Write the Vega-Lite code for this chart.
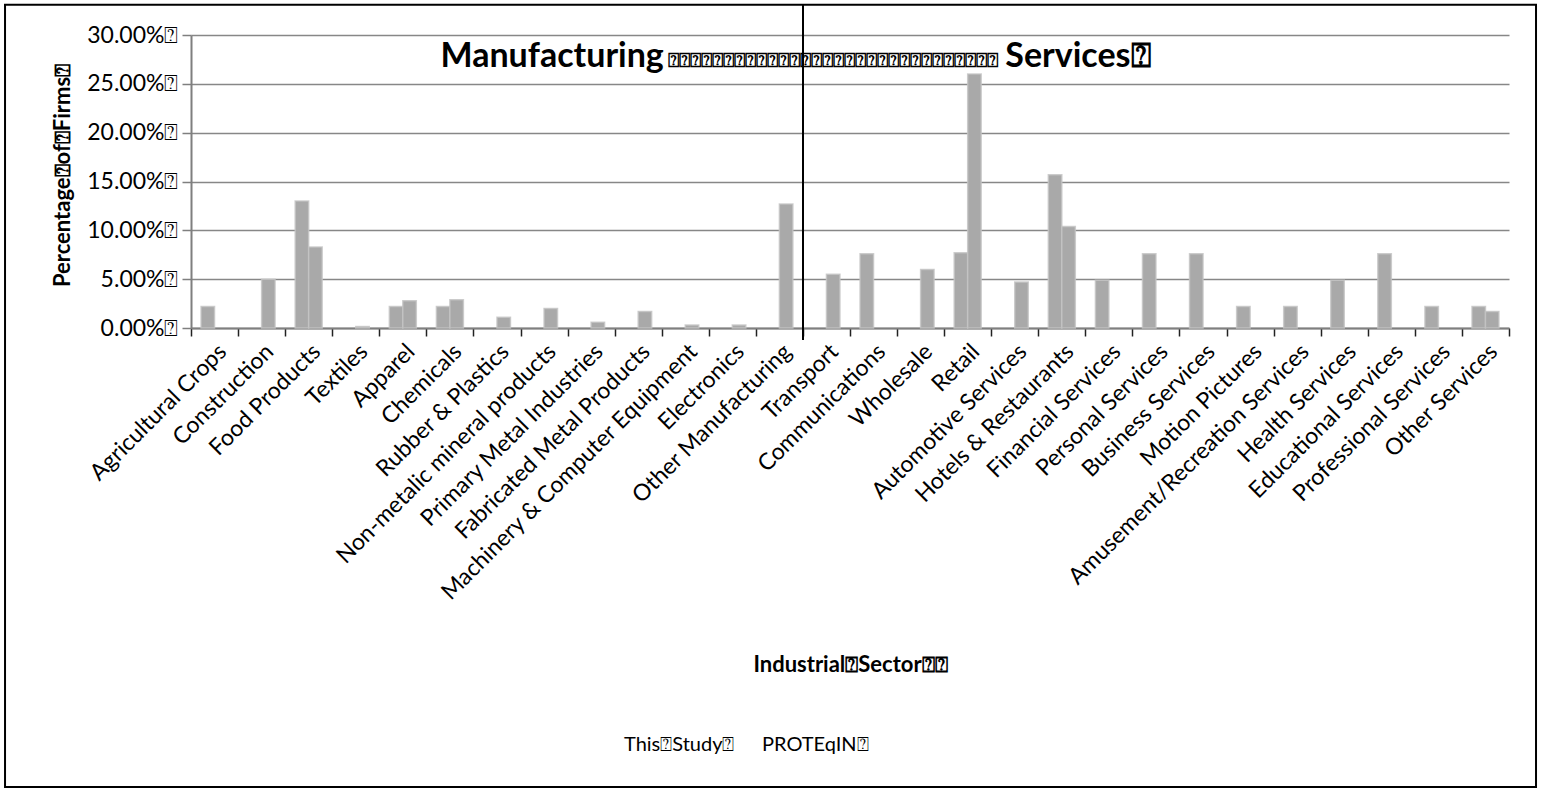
{
  "$schema": "https://vega.github.io/schema/vega-lite/v6.json",
  "autosize": {"type": "none"},
  "width": 1318,
  "height": 293,
  "padding": {"left": 191, "top": 35, "right": 32, "bottom": 464},
  "background": "white",
  "config": {
    "font": "Lato",
    "view": {"stroke": null},
    "axis": {"labelFont": "Lato", "titleFont": "Lato"},
    "legend": {"labelFont": "Lato"}
  },
  "datasets": {
    "firms": [
      {"sector": "Agricultural Crops", "series": "This Study", "share": 0.022},
      {"sector": "Construction", "series": "PROTEqIN", "share": 0.050},
      {"sector": "Food Products", "series": "This Study", "share": 0.130},
      {"sector": "Food Products", "series": "PROTEqIN", "share": 0.083},
      {"sector": "Textiles", "series": "PROTEqIN", "share": 0.0015},
      {"sector": "Apparel", "series": "This Study", "share": 0.022},
      {"sector": "Apparel", "series": "PROTEqIN", "share": 0.028},
      {"sector": "Chemicals", "series": "This Study", "share": 0.022},
      {"sector": "Chemicals", "series": "PROTEqIN", "share": 0.029},
      {"sector": "Rubber & Plastics", "series": "PROTEqIN", "share": 0.011},
      {"sector": "Non-metalic mineral products", "series": "PROTEqIN", "share": 0.020},
      {"sector": "Primary Metal Industries", "series": "PROTEqIN", "share": 0.006},
      {"sector": "Fabricated Metal Products", "series": "PROTEqIN", "share": 0.017},
      {"sector": "Machinery & Computer Equipment", "series": "PROTEqIN", "share": 0.003},
      {"sector": "Electronics", "series": "PROTEqIN", "share": 0.003},
      {"sector": "Other Manufacturing", "series": "PROTEqIN", "share": 0.127},
      {"sector": "Transport", "series": "PROTEqIN", "share": 0.055},
      {"sector": "Communications", "series": "This Study", "share": 0.076},
      {"sector": "Wholesale", "series": "PROTEqIN", "share": 0.060},
      {"sector": "Retail", "series": "This Study", "share": 0.077},
      {"sector": "Retail", "series": "PROTEqIN", "share": 0.260},
      {"sector": "Automotive Services", "series": "PROTEqIN", "share": 0.047},
      {"sector": "Hotels & Restaurants", "series": "This Study", "share": 0.157},
      {"sector": "Hotels & Restaurants", "series": "PROTEqIN", "share": 0.104},
      {"sector": "Financial Services", "series": "This Study", "share": 0.049},
      {"sector": "Personal Services", "series": "This Study", "share": 0.076},
      {"sector": "Business Services", "series": "This Study", "share": 0.076},
      {"sector": "Motion Pictures", "series": "This Study", "share": 0.022},
      {"sector": "Amusement/Recreation Services", "series": "This Study", "share": 0.022},
      {"sector": "Health Services", "series": "This Study", "share": 0.049},
      {"sector": "Educational Services", "series": "This Study", "share": 0.076},
      {"sector": "Professional Services", "series": "This Study", "share": 0.022},
      {"sector": "Other Services", "series": "This Study", "share": 0.022},
      {"sector": "Other Services", "series": "PROTEqIN", "share": 0.017}
    ],
    "headings": [
      {"pos": "Chemicals", "text": "Manufacturing"},
      {"pos": "Automotive Services", "text": "Services⍰"}
    ]
  },
  "resolve": {"scale": {"x": "independent"}},
  "layer": [
    {
      "data": {"name": "firms"},
      "layer": [
        {
          "mark": {"type": "bar", "color": "#a9a9a9", "stroke": "#c4c4c4", "strokeWidth": 1.5, "strokeOpacity": 0.8},
          "encoding": {
            "x": {
              "field": "sector",
              "type": "nominal",
              "sort": null,
              "scale": {
                "domain": ["Agricultural Crops", "Construction", "Food Products", "Textiles", "Apparel", "Chemicals", "Rubber & Plastics", "Non-metalic mineral products", "Primary Metal Industries", "Fabricated Metal Products", "Machinery & Computer Equipment", "Electronics", "Other Manufacturing", "Transport", "Communications", "Wholesale", "Retail", "Automotive Services", "Hotels & Restaurants", "Financial Services", "Personal Services", "Business Services", "Motion Pictures", "Amusement/Recreation Services", "Health Services", "Educational Services", "Professional Services", "Other Services"],
                "paddingInner": 0,
                "paddingOuter": 0
              },
              "axis": {
                "title": "Industrial⍰Sector⍰⍰",
                "titleFontSize": 22,
                "titleFontWeight": "bold",
                "titleColor": "black",
                "titleX": 659,
                "titleY": 336,
                "titleBaseline": "middle",
                "labelAngle": -45,
                "labelFontSize": 23,
                "labelColor": "black",
                "labelPadding": 4,
                "labelOverlap": false,
                "labelLimit": 500,
                "tickBand": "extent",
                "tickColor": "#222222",
                "tickSize": 8,
                "tickWidth": 1.5,
                "domainColor": "#7f7f7f",
                "domainWidth": 2,
                "grid": false
              }
            },
            "xOffset": {
              "field": "series",
              "type": "nominal",
              "scale": {"domain": ["This Study", "PROTEqIN"], "paddingInner": 0, "paddingOuter": 0.745}
            },
            "y": {
              "field": "share",
              "type": "quantitative",
              "scale": {"domain": [0, 0.3], "nice": false},
              "axis": {
                "title": "Percentage⍰of⍰Firms⍰",
                "titleFontSize": 22,
                "titleFontWeight": "bold",
                "titleColor": "black",
                "titleX": -129,
                "titleY": 140,
                "titleAngle": -90,
                "titleAlign": "center",
                "titleBaseline": "middle",
                "values": [0, 0.05, 0.1, 0.15, 0.2, 0.25, 0.3],
                "labelExpr": "format(datum.value, '.2%') + '⍰'",
                "labelFontSize": 23,
                "labelColor": "black",
                "labelPadding": 4,
                "tickColor": "#7f7f7f",
                "tickSize": 9,
                "tickWidth": 1.5,
                "domainColor": "#7f7f7f",
                "domainWidth": 2,
                "grid": true,
                "gridColor": "#878787",
                "gridWidth": 1.6
              }
            },
            "color": {
              "field": "series",
              "type": "nominal",
              "scale": {"domain": ["This Study", "PROTEqIN"], "range": ["#a9a9a9", "#a9a9a9"]},
              "legend": {
                "title": null,
                "orient": "none",
                "direction": "horizontal",
                "legendX": 409,
                "legendY": 700,
                "symbolType": "square",
                "symbolSize": 120,
                "symbolOpacity": 0,
                "labelFontSize": 20,
                "labelColor": "black",
                "columnPadding": 3,
                "labelExpr": "datum.label == 'This Study' ? 'This⍰Study⍰' : datum.label + '⍰'"
              }
            }
          }
        },
        {
          "data": {"name": "headings"},
          "mark": {"type": "text", "align": "left", "baseline": "alphabetic", "fontWeight": "bold", "fontSize": 34, "color": "black"},
          "encoding": {
            "x": {"field": "pos", "type": "nominal", "bandPosition": 0.3},
            "y": {"datum": 0.267},
            "text": {"field": "text"}
          }
        },
        {
          "data": {"values": [{"pos": "Machinery & Computer Equipment", "strip": "⍰⍰⍰⍰⍰⍰⍰⍰⍰⍰⍰⍰⍰⍰⍰⍰⍰⍰⍰⍰⍰⍰⍰⍰⍰⍰⍰⍰⍰⍰"}]},
          "mark": {"type": "text", "align": "left", "baseline": "alphabetic", "fontWeight": "bold", "fontSize": 19, "color": "black"},
          "encoding": {
            "x": {"field": "pos", "type": "nominal", "bandPosition": 0.14},
            "y": {"datum": 0.267},
            "text": {"field": "strip"}
          }
        },
        {
          "mark": {"type": "rule", "color": "black", "strokeWidth": 1.5},
          "encoding": {
            "x": {"datum": "Transport", "bandPosition": 0},
            "y": {"datum": -0.012},
            "y2": {"datum": 0.331}
          }
        }
      ]
    },
    {
      "data": {"values": [{}]},
      "mark": {"type": "rect", "fillOpacity": 0, "stroke": "black", "strokeWidth": 2},
      "encoding": {
        "x": {"datum": -0.1411, "type": "quantitative", "scale": {"domain": [0, 1]}, "axis": null},
        "x2": {"datum": 1.0205},
        "y": {"datum": 0.331},
        "y2": {"datum": -0.47}
      }
    }
  ]
}
